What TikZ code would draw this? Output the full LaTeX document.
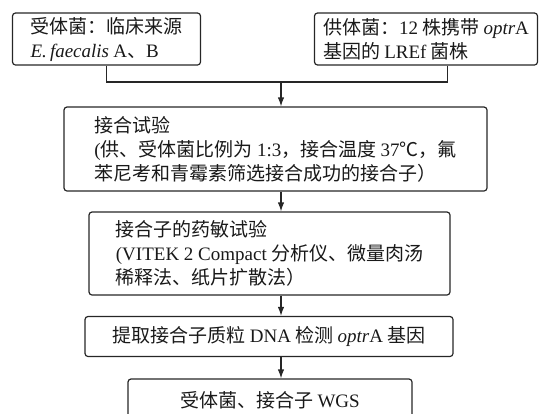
\documentclass[tikz,border=0pt]{standalone}
\usepackage{fontspec}
\setmainfont{Noto Sans CJK SC}
\newfontfamily\enfont{Liberation Serif}
\newcommand{\en}[1]{{\enfont #1}}
\usetikzlibrary{arrows.meta,positioning,calc}

\begin{document}
\begin{tikzpicture}[
  x=1pt,y=-1pt,
  stepbox/.style={
    draw=black!85,
    line width=1.2pt,
    rounded corners=3pt,
    align=left,
    inner sep=0pt,
    font=\fontsize{19}{24}\selectfont, text=black!90
  },
  link/.style={
    draw=black!85,
    line width=1.2pt
  },
  arr/.style={
    link,
    -{Latex[length=9pt,width=6.5pt]}
  },
]
\useasboundingbox (0,0) rectangle (540,413);

% Nodes (two sources, then the chain)
\node[stepbox, minimum width=188pt, minimum height=52pt] (recv) at (106.5,39)
  {受体菌：临床来源\\\en{\itshape E.\,faecalis} \en{A}、\en{B}};
\node[stepbox, minimum width=223pt, minimum height=52pt] (donor) at (426,39)
  {供体菌：\en{12} 株携带 \en{\itshape optr}\en{A}\\基因的 \en{LREf} 菌株};
\node[stepbox, minimum width=423pt, minimum height=84pt] (mate) at (275.5,149)
  {接合试验\\\en{(}供、受体菌比例为 \en{1:3}，接合温度 \en{37}℃，氟\\苯尼考和青霉素筛选接合成功的接合子）};
\node[stepbox, minimum width=361pt, minimum height=83pt] (sens) at (269.5,253.5)
  {接合子的药敏试验\\\en{(VITEK 2 Compact} 分析仪、微量肉汤\\稀释法、纸片扩散法）};
\node[stepbox, minimum width=368pt, minimum height=40pt] (dna) at (269,336.5)
  {提取接合子质粒 \en{DNA} 检测 \en{\itshape optr}\en{A} 基因};
\node[stepbox, minimum width=284pt, minimum height=42pt] (wgs) at (270,400)
  {受体菌、接合子 \en{WGS}};

% Merge of the two sources
\coordinate (join) at (281,82);
\draw[link] (recv.south) |- (join);
\draw[link] ([xshift=21.5pt]donor.south) |- (join);
\draw[arr] (join) -- (join |- mate.north);

% Chain arrows
\draw[arr] (mate.south -| join) -- (sens.north -| join);
\draw[arr] (sens.south -| join) -- (dna.north -| join);
\draw[arr] (dna.south -| join) -- (wgs.north -| join);

\end{tikzpicture}
\end{document}
